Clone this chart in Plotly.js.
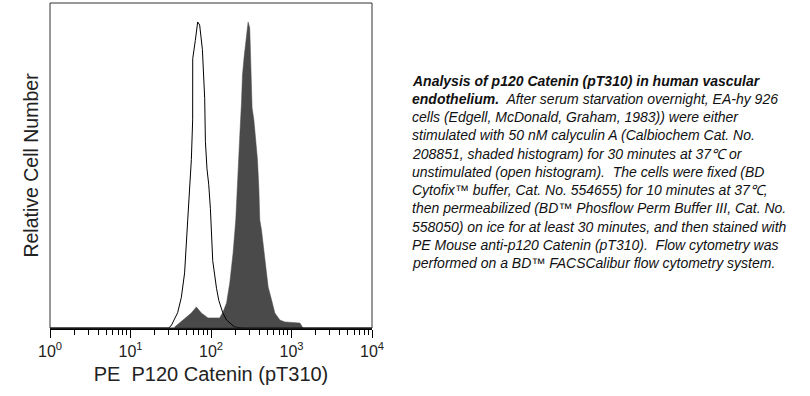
<!DOCTYPE html>
<html>
<head>
<meta charset="utf-8">
<script src="https://cdn.plot.ly/plotly-3.0.1.min.js"></script>
<style>html,body{margin:0;padding:0;background:#fff;}#chart{width:810px;height:396px;}</style>
</head>
<body>
<div id="chart"></div>
<script>
// Open histogram (unstimulated): fluorescence values and relative counts
var openX = [1, 30, 32.4, 38.5, 42.8, 47.0, 51.3, 52.8, 54.3, 57.0, 59.2, 59.3, 63.9, 68.3, 72.3, 78.2, 83.5, 85.2, 89.1, 93.6, 98.3, 105, 117, 125, 140, 156, 197, 250, 10000];
var openY = [0, 0, 1, 5, 10, 18, 35, 40, 45, 55, 68, 88, 94, 100, 99, 91, 75, 61, 52, 47, 39, 22, 13, 9, 5, 2.6, 0.3, 0, 0];

// Shaded histogram (calyculin A stimulated)
var filledX = [35.3, 44.4, 57.0, 65.8, 75.9, 91.8, 128, 141, 156, 171, 188, 203, 209, 217, 228, 239, 246, 258, 270, 281, 289, 303, 312, 324, 341, 357, 368, 378, 393, 404, 424, 467, 513, 565, 621, 717, 828, 1274, 1387];
var filledY = [0.3, 2.6, 4.9, 6.9, 4.9, 3.3, 3.3, 5.2, 8.2, 14.7, 24.5, 35.3, 43.5, 54.2, 63, 73.5, 82.7, 88.6, 93.5, 98, 100, 98, 82, 71.9, 68, 62.4, 58.8, 54.9, 45.8, 35.3, 32, 23.2, 13.4, 9.2, 4.9, 2.6, 2, 1.6, 0];

// Axis tick labels
var tickVals = [1, 10, 100, 1000, 10000];
var tickText = ['10<sup>0</sup>', '10<sup>1</sup>', '10<sup>2</sup>', '10<sup>3</sup>', '10<sup>4</sup>'];

// Caption lines
var captionLines = [
  '<b>Analysis of p120 Catenin (pT310) in human vascular</b>',
  '<b>endothelium.</b>\u00a0 After serum starvation overnight, EA-hy 926',
  'cells (Edgell, McDonald, Graham, 1983)) were either',
  'stimulated with 50 nM calyculin A (Calbiochem Cat. No.',
  '208851, shaded histogram) for 30 minutes at 37\u2103 or',
  'unstimulated (open histogram).\u00a0 The cells were fixed (BD',
  'Cytofix\u2122 buffer, Cat. No. 554655) for 10 minutes at 37\u2103,',
  'then permeabilized (BD\u2122 Phosflow Perm Buffer III, Cat. No.',
  '558050) on ice for at least 30 minutes, and then stained with',
  'PE Mouse anti-p120 Catenin (pT310).\u00a0 Flow cytometry was',
  'performed on a BD\u2122 FACSCalibur flow cytometry system.'
];

var traces = [
  {x: filledX, y: filledY, type: 'scatter', mode: 'lines', fill: 'tozeroy',
   fillcolor: '#4a4a4a', line: {color: '#4a4a4a', width: 0.5}, hoverinfo: 'skip'},
  {x: openX, y: openY, type: 'scatter', mode: 'lines',
   line: {color: '#000', width: 1}, hoverinfo: 'skip'}
];

var L = 50, R = 372, T = 3, B = 328;
function px(x){ return (x - L) / (R - L); }
function py(y){ return (B - y) / (B - T); }

var annotations = captionLines.map(function(t, i){
  return {text: '<i>' + t + '</i>', xref: 'paper', yref: 'paper',
    x: px(410), y: py(80.7 + i * 18.25), xanchor: 'left', yanchor: 'middle',
    showarrow: false, align: 'left',
    font: {family: 'Liberation Sans, Arial, sans-serif', size: 14, color: '#111'}};
});

var layout = {
  width: 810, height: 396,
  margin: {l: L, r: 810 - R, t: T, b: 396 - B},
  paper_bgcolor: '#fff', plot_bgcolor: '#fff',
  showlegend: false,
  font: {family: 'Liberation Sans, Arial, sans-serif', color: '#222'},
  xaxis: {type: 'log', range: [0, 4], tickvals: tickVals, ticktext: tickText,
    ticks: 'outside', ticklen: 8, tickwidth: 1, tickcolor: '#000',
    minor: {ticks: 'outside', ticklen: 5, tickcolor: '#000', dtick: 'D1', showgrid: false},
    showgrid: false, zeroline: false, showline: true, linewidth: 2, linecolor: '#000',
    tickfont: {size: 16, color: '#222'},
    title: {text: 'PE\u00a0 P120 Catenin (pT310)', font: {size: 20, color: '#222'}, standoff: 8}},
  yaxis: {range: [0, 106.2], showticklabels: false, ticks: '', showgrid: false, zeroline: false,
    showline: false,
    title: {text: 'Relative Cell Number', font: {size: 19.5, color: '#222'}, standoff: 5}},
  shapes: [
    {type: 'rect', xref: 'paper', yref: 'paper', x0: 0, x1: 1, y0: 0, y1: 1,
     line: {color: '#333', width: 1}, fillcolor: 'rgba(0,0,0,0)'}
  ],
  annotations: annotations
};

Plotly.newPlot('chart', traces, layout, {displayModeBar: false, staticPlot: true});
</script>
</body>
</html>
